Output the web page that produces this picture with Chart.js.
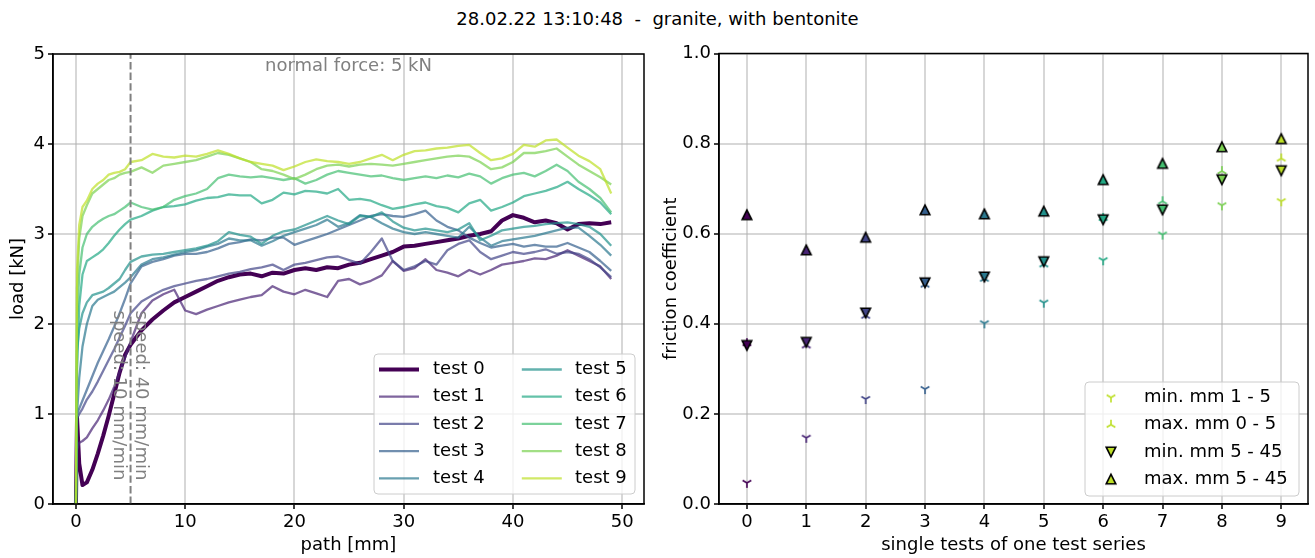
<!DOCTYPE html>
<html>
<head>
<meta charset="utf-8">
<script src="https://cdn.jsdelivr.net/npm/chart.js@4.4.0/dist/chart.umd.min.js"></script>
<style>
  body { margin: 0; background: #fff; }
  #wrap { position: relative; width: 1315px; height: 558px; font-family: 'DejaVu Sans', sans-serif; }
  #title { position: absolute; left: 0; top: 8px; width: 1315px; text-align: center; font-size: 18px; line-height: 22px; white-space: pre; color: #000; }
  canvas { position: absolute; top: 0; }
</style>
</head>
<body>
<div id="wrap">
  <div id="title">28.02.22 13:10:48  -  granite, with bentonite</div>
  <canvas id="loadChart" width="657" height="558" style="left:0;width:657px;height:558px"></canvas>
  <canvas id="frictionChart" width="658" height="558" style="left:657px;width:658px;height:558px"></canvas>
</div>
<script>
// path [mm] at which the load values were read
var path = [0, 0.1, 0.3, 0.6, 1, 1.5, 2, 2.5, 3, 3.5, 4, 4.5,
  5, 6, 7, 8, 9, 10, 11, 12, 13, 14, 15, 16, 17, 18, 19, 20, 21, 22, 23, 24, 25, 26, 27,
  28, 29, 30, 31, 32, 33, 34, 35, 36, 37, 38, 39, 40, 41, 42, 43, 44, 45, 46, 47, 48, 49];

// load [kN] per test
var load0 = [0, 0.96, 0.45, 0.21, 0.24, 0.38, 0.56, 0.76, 0.98, 1.22, 1.46, 1.66,
  1.77, 1.93, 2.05, 2.15, 2.24, 2.3, 2.36, 2.42, 2.48, 2.52, 2.55, 2.56, 2.53, 2.57, 2.56, 2.6, 2.62, 2.6, 2.63, 2.62, 2.66, 2.68, 2.72,
  2.76, 2.8, 2.86, 2.87, 2.89, 2.91, 2.93, 2.95, 2.98, 3.0, 3.03, 3.15, 3.21, 3.18, 3.13, 3.15, 3.12, 3.05, 3.11, 3.12, 3.11, 3.13];
var load1 = [0, 0.6, 0.68, 0.7, 0.74, 0.84, 0.93, 1.04, 1.16, 1.3, 1.47, 1.63,
  1.8, 2.12, 2.26, 2.33, 2.38, 2.15, 2.11, 2.16, 2.2, 2.24, 2.27, 2.3, 2.32, 2.42, 2.36, 2.33, 2.38, 2.34, 2.3, 2.48, 2.5, 2.44, 2.48,
  2.54, 2.7, 2.59, 2.62, 2.72, 2.6, 2.57, 2.53, 2.6, 2.55, 2.6, 2.66, 2.68, 2.7, 2.73, 2.72, 2.76, 2.82, 2.76, 2.7, 2.64, 2.5];
var load2 = [0, 0.95, 1.0, 1.06, 1.16, 1.25, 1.36, 1.48, 1.6, 1.72, 1.85, 1.98,
  2.12, 2.25, 2.32, 2.38, 2.42, 2.45, 2.48, 2.5, 2.53, 2.56, 2.58, 2.61, 2.63, 2.66, 2.6, 2.66, 2.68, 2.71, 2.74, 2.75, 2.71, 2.67, 2.8,
  2.95, 2.7, 2.6, 2.64, 2.7, 2.66, 2.82, 2.89, 2.93, 2.8, 2.72, 2.76, 2.8, 2.78, 2.8, 2.83, 2.78, 2.8, 2.78, 2.72, 2.63, 2.52];
var load3 = [0, 1.0, 1.06, 1.15, 1.27, 1.42, 1.57, 1.7, 1.83, 1.97, 2.12, 2.28,
  2.45, 2.64, 2.69, 2.72, 2.76, 2.78, 2.78, 2.8, 2.84, 2.89, 2.91, 2.94, 2.93, 2.96, 2.96, 2.88, 2.92, 2.96, 3.0, 3.05, 3.1, 3.15, 3.2,
  3.22, 3.2, 3.19, 3.22, 3.26, 3.15, 3.08, 3.04, 2.96, 2.9, 2.85, 2.87, 2.89, 2.86, 2.88, 2.86, 2.86, 2.9, 2.85, 2.8, 2.7, 2.59];
var load4 = [0, 1.0, 1.4, 1.75, 2.0, 2.2, 2.27, 2.3, 2.33, 2.36, 2.41, 2.46,
  2.52, 2.66, 2.72, 2.74, 2.77, 2.8, 2.82, 2.86, 2.89, 2.95, 2.93, 2.93, 2.87, 2.92, 2.98, 3.02, 3.06, 3.1, 3.16, 3.08, 3.12, 3.21, 3.19,
  3.12, 3.06, 3.02, 3.0, 3.02, 3.0, 2.98, 2.96, 3.08, 2.96, 2.87, 2.92, 2.94, 2.96, 2.98, 3.01, 3.04, 3.07, 3.07, 2.98, 2.88, 2.76];
var load5 = [0, 1.7, 1.95, 2.12, 2.24, 2.32, 2.34, 2.36, 2.4, 2.45, 2.5, 2.6,
  2.69, 2.75, 2.77, 2.78, 2.8, 2.82, 2.84, 2.87, 2.92, 3.02, 2.99, 2.97, 2.89, 2.98, 3.03, 3.05, 3.1, 3.15, 3.2, 3.15, 3.11, 3.2, 3.19,
  3.24, 3.14, 3.07, 3.04, 3.06, 3.04, 3.02, 3.05, 3.12, 2.93, 2.98, 3.04, 3.06, 3.08, 3.09, 3.11, 3.12, 3.13, 3.11, 3.08, 3.0, 2.87];
var load6 = [0, 1.5, 2.2, 2.55, 2.7, 2.74, 2.78, 2.83, 2.9, 2.98, 3.05, 3.11,
  3.16, 3.2, 3.26, 3.3, 3.31, 3.33, 3.37, 3.4, 3.41, 3.44, 3.43, 3.43, 3.34, 3.38, 3.46, 3.44, 3.48, 3.47, 3.45, 3.5, 3.38, 3.39, 3.37,
  3.32, 3.28, 3.3, 3.33, 3.35, 3.31, 3.29, 3.24, 3.34, 3.38, 3.26, 3.3, 3.35, 3.42, 3.45, 3.48, 3.52, 3.58, 3.5, 3.43, 3.35, 3.22];
var load7 = [0, 2.0, 2.55, 2.85, 3.0, 3.08, 3.13, 3.17, 3.2, 3.22, 3.26, 3.3,
  3.35, 3.3, 3.27, 3.3, 3.38, 3.42, 3.45, 3.5, 3.62, 3.66, 3.64, 3.63, 3.64, 3.62, 3.6, 3.62, 3.56, 3.6, 3.66, 3.7, 3.68, 3.66, 3.64,
  3.65, 3.62, 3.6, 3.62, 3.64, 3.62, 3.65, 3.63, 3.67, 3.64, 3.56, 3.62, 3.66, 3.68, 3.64, 3.7, 3.77, 3.7, 3.58, 3.5, 3.4, 3.24];
var load8 = [0, 2.4, 2.95, 3.2, 3.32, 3.45, 3.5, 3.55, 3.6, 3.62, 3.66, 3.68,
  3.69, 3.74, 3.68, 3.76, 3.78, 3.8, 3.82, 3.86, 3.9, 3.88, 3.84, 3.8, 3.72, 3.7, 3.66, 3.61, 3.66, 3.72, 3.76, 3.77, 3.75, 3.77, 3.78,
  3.77, 3.76, 3.78, 3.8, 3.82, 3.84, 3.86, 3.87, 3.86, 3.8, 3.72, 3.74, 3.8, 3.9, 3.9, 3.92, 3.95, 3.86, 3.77, 3.7, 3.63, 3.55];
var load9 = [0, 2.6, 3.1, 3.3, 3.37, 3.5, 3.56, 3.6, 3.66, 3.68, 3.69, 3.72,
  3.8, 3.82, 3.89, 3.86, 3.85, 3.87, 3.86, 3.89, 3.93, 3.89, 3.84, 3.8, 3.78, 3.76, 3.71, 3.75, 3.8, 3.83, 3.81, 3.8, 3.78, 3.8, 3.84,
  3.88, 3.82, 3.88, 3.92, 3.93, 3.95, 3.96, 3.98, 3.99, 3.9, 3.82, 3.84, 3.89, 3.99, 3.97, 4.04, 4.05, 3.96, 3.87, 3.81, 3.72, 3.45];
var loads = [load0, load1, load2, load3, load4, load5, load6, load7, load8, load9];

// friction coefficient per single test
var tests = [0, 1, 2, 3, 4, 5, 6, 7, 8, 9];
var minEarly = [0.047, 0.147, 0.233, 0.255, 0.401, 0.447, 0.541, 0.598, 0.663, 0.672];
var maxEarly = [0.357, 0.352, 0.418, 0.487, 0.500, 0.532, 0.635, 0.672, 0.739, 0.767];
var minMain = [0.352, 0.359, 0.424, 0.491, 0.504, 0.538, 0.631, 0.653, 0.720, 0.740];
var maxMain = [0.642, 0.564, 0.592, 0.653, 0.644, 0.650, 0.720, 0.756, 0.793, 0.811];

var pathTicks = [0, 10, 20, 30, 40, 50];
var loadTicks = [0, 1, 2, 3, 4, 5];
var frictionTicks = [0, 0.2, 0.4, 0.6, 0.8, 1.0];

var speedChangeAt = 5;   // mm
var normalForce = 5;     // kN

var viridis = ['#440154', '#482475', '#414487', '#355f8d', '#2a788e', '#21918c', '#22a884', '#44bf70', '#7ad151', '#bddf26'];

function rgba(hex, a) {
  var n = parseInt(hex.slice(1), 16);
  return 'rgba(' + (n >> 16) + ',' + ((n >> 8) & 255) + ',' + (n & 255) + ',' + a + ')';
}
function lineColor(i) { return i === 0 ? viridis[0] : rgba(viridis[i], 0.7); }
function lineWidth(i) { return i === 0 ? 4 : 2.3; }

Chart.defaults.font.family = "'DejaVu Sans', sans-serif";
Chart.defaults.font.size = 18;
Chart.defaults.color = '#000';

var gridStyle = { color: 'rgba(176,176,176,0.5)', lineWidth: 2, tickColor: '#000', tickWidth: 1.5, tickLength: 5 };
var borderStyle = { color: '#000', width: 1.5 };

function fixedTicks(values) {
  return function (scale) { scale.ticks = values.map(function (v) { return { value: v }; }); };
}

function drawFrame(chart) {
  var a = chart.chartArea, c = chart.ctx;
  c.save();
  c.strokeStyle = '#000';
  c.lineWidth = 1.5;
  c.strokeRect(a.left, a.top, a.right - a.left, a.bottom - a.top);
  c.restore();
}

function legendBox(c, x, y, w, h) {
  c.save();
  c.beginPath();
  if (c.roundRect) c.roundRect(x, y, w, h, 4); else c.rect(x, y, w, h);
  c.fillStyle = 'rgba(255,255,255,0.8)';
  c.fill();
  c.strokeStyle = '#cccccc';
  c.lineWidth = 1;
  c.stroke();
  c.restore();
}

// matplotlib-like marker glyphs
function marker(kind, color) {
  var cv = document.createElement('canvas');
  cv.width = 18; cv.height = 18;
  var g = cv.getContext('2d'), m = 9, s;
  if (kind === 'tri_down' || kind === 'tri_up') {
    var r = 5;
    s = kind === 'tri_down' ? 1 : -1;
    g.strokeStyle = color;
    g.lineWidth = 1.6;
    g.beginPath();
    g.moveTo(m, m); g.lineTo(m, m + s * r);
    g.moveTo(m, m); g.lineTo(m - r * 0.866, m - s * r * 0.5);
    g.moveTo(m, m); g.lineTo(m + r * 0.866, m - s * r * 0.5);
    g.stroke();
  } else {
    var t = 4.8;
    s = kind === 'v' ? 1 : -1;
    g.beginPath();
    g.moveTo(m, m + s * t); g.lineTo(m - t, m - s * t); g.lineTo(m + t, m - s * t);
    g.closePath();
    g.fillStyle = color;
    g.fill();
    g.lineWidth = 1.6;
    g.strokeStyle = '#000';
    g.stroke();
  }
  return cv;
}

// ---------- left: load vs path ----------
var loadDeco = {
  id: 'loadDeco',
  afterDatasetsDraw: function (chart) {
    var c = chart.ctx, a = chart.chartArea, xs = chart.scales.x, ys = chart.scales.y;
    var px = xs.getPixelForValue(speedChangeAt);
    c.save();
    c.strokeStyle = 'gray';
    c.lineWidth = 2;
    c.setLineDash([7.4, 3.2]);
    c.beginPath();
    c.moveTo(px, a.bottom);
    c.lineTo(px, a.top);
    c.stroke();
    c.setLineDash([]);
    c.fillStyle = 'gray';
    c.font = "18px 'DejaVu Sans'";
    c.textAlign = 'center';
    c.textBaseline = 'middle';
    c.fillText('normal force: ' + normalForce + ' kN', (a.left + a.right) / 2, a.top + 12);
    var ty = ys.getPixelForValue(2.15);
    c.textAlign = 'left';
    [[-12, 'speed: 10 mm/min'], [10.5, 'speed: 40 mm/min']].forEach(function (t) {
      c.save();
      c.translate(px + t[0], ty);
      c.rotate(Math.PI / 2);
      c.fillText(t[1], 0, 0);
      c.restore();
    });
    c.restore();
  },
  afterDraw: function (chart) {
    drawFrame(chart);
    var c = chart.ctx, a = chart.chartArea;
    var bx = a.right - 270, by = a.bottom - 150;
    legendBox(c, bx, by, 261, 140);
    c.save();
    c.font = "18px 'DejaVu Sans'";
    c.textBaseline = 'middle';
    c.textAlign = 'left';
    c.fillStyle = '#000';
    tests.forEach(function (i) {
      var col = Math.floor(i / 5), row = i % 5;
      var ry = by + 15.5 + row * 27.2;
      var lx = bx + 5 + col * 142.8;
      c.strokeStyle = lineColor(i);
      c.lineWidth = lineWidth(i);
      c.beginPath();
      c.moveTo(lx, ry);
      c.lineTo(lx + 40, ry);
      c.stroke();
      c.fillText('test ' + i, bx + 59 + col * 142, ry);
    });
    c.restore();
  }
};

new Chart(document.getElementById('loadChart'), {
  type: 'line',
  data: {
    datasets: tests.map(function (i) {
      return {
        label: 'test ' + i,
        data: path.map(function (p, k) { return { x: p, y: loads[i][k] }; }),
        borderColor: lineColor(i),
        borderWidth: lineWidth(i),
        borderJoinStyle: 'round',
        pointRadius: 0,
        tension: 0,
        fill: false,
        order: 9 - i
      };
    })
  },
  options: {
    responsive: false,
    animation: false,
    devicePixelRatio: 1,
    layout: { padding: { top: 54, right: 13, bottom: 0, left: 0 } },
    plugins: { legend: { display: false }, tooltip: { enabled: false } },
    scales: {
      x: {
        type: 'linear', min: -2.1, max: 52,
        afterBuildTicks: fixedTicks(pathTicks),
        afterFit: function (s) { s.height = 54; },
        grid: gridStyle, border: borderStyle,
        ticks: { padding: 3, maxRotation: 0 },
        title: { display: true, text: 'path [mm]', padding: { top: 0, bottom: 2 } }
      },
      y: {
        type: 'linear', min: 0, max: 5,
        afterBuildTicks: fixedTicks(loadTicks),
        afterFit: function (s) { s.width = 53; },
        grid: gridStyle, border: borderStyle,
        ticks: { padding: 3 },
        title: { display: true, text: 'load [kN]', padding: { top: 8, bottom: 0 } }
      }
    }
  },
  plugins: [loadDeco]
});

// ---------- right: friction coefficients ----------
var seriesDefs = [
  { label: 'min. mm 1 - 5', values: minEarly, kind: 'tri_down' },
  { label: 'max. mm 0 - 5', values: maxEarly, kind: 'tri_up' },
  { label: 'min. mm 5 - 45', values: minMain, kind: 'v' },
  { label: 'max. mm 5 - 45', values: maxMain, kind: '^' }
];

var frictionDeco = {
  id: 'frictionDeco',
  afterDraw: function (chart) {
    drawFrame(chart);
    var c = chart.ctx, a = chart.chartArea;
    var bx = a.right - 223, by = a.bottom - 122;
    legendBox(c, bx, by, 214, 114);
    c.save();
    c.font = "18px 'DejaVu Sans'";
    c.textBaseline = 'middle';
    c.textAlign = 'left';
    c.fillStyle = '#000';
    seriesDefs.forEach(function (d, k) {
      var ry = by + 15.5 + k * 27.2;
      var img = marker(d.kind, viridis[9]);
      c.drawImage(img, bx + 26 - img.width / 2, ry - img.height / 2);
      c.fillText(d.label, bx + 59, ry);
    });
    c.restore();
  }
};

new Chart(document.getElementById('frictionChart'), {
  type: 'scatter',
  data: {
    datasets: seriesDefs.map(function (d, k) {
      return {
        label: d.label,
        data: tests.map(function (i) { return { x: i, y: d.values[i] }; }),
        pointStyle: tests.map(function (i) { return marker(d.kind, viridis[i]); }),
        pointRadius: 6,
        order: 3 - k
      };
    })
  },
  options: {
    responsive: false,
    animation: false,
    devicePixelRatio: 1,
    layout: { padding: { top: 53.5, right: 4, bottom: 0, left: 0 } },
    plugins: { legend: { display: false }, tooltip: { enabled: false } },
    scales: {
      x: {
        type: 'linear', min: -0.47, max: 9.45,
        afterBuildTicks: fixedTicks(tests),
        afterFit: function (s) { s.height = 54; },
        grid: gridStyle, border: borderStyle,
        ticks: { padding: 3, maxRotation: 0 },
        title: { display: true, text: 'single tests of one test series', padding: { top: 0, bottom: 2 } }
      },
      y: {
        type: 'linear', min: 0, max: 1,
        afterBuildTicks: fixedTicks(frictionTicks),
        afterFit: function (s) { s.width = 62; },
        grid: gridStyle, border: borderStyle,
        ticks: { padding: 3, callback: function (v) { return v.toFixed(1); } },
        title: { display: true, text: 'friction coefficient', padding: { top: 4, bottom: 0 } }
      }
    }
  },
  plugins: [frictionDeco]
});
</script>
</body>
</html>
